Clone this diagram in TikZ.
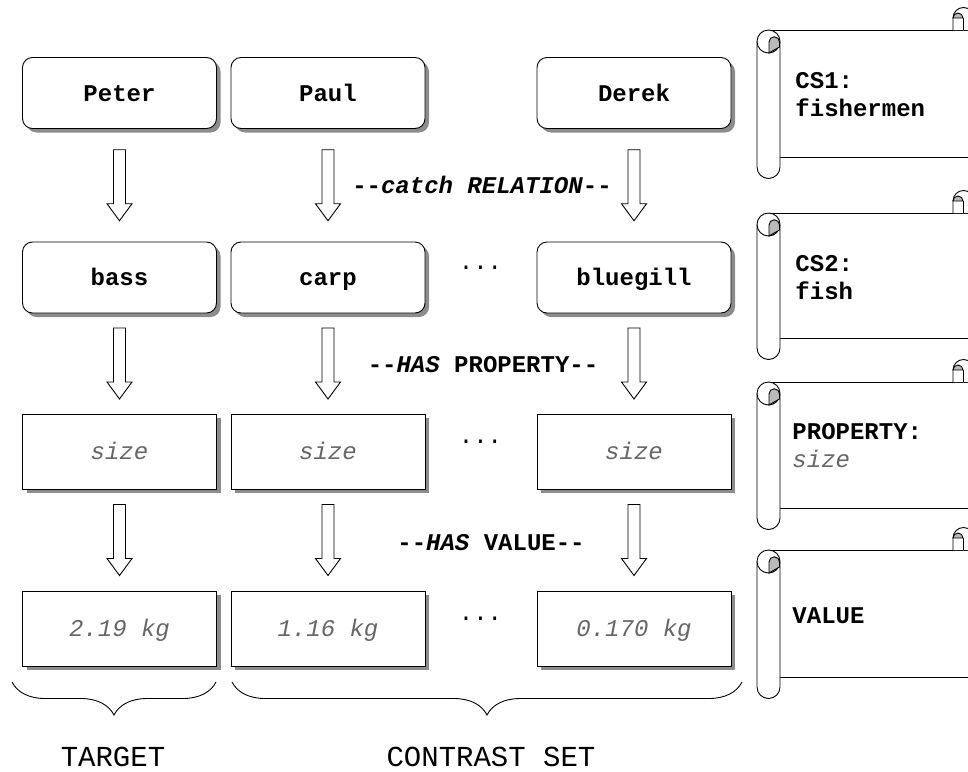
\documentclass[tikz,border=0pt]{standalone}
\usepackage{fontspec}
\setmainfont{Liberation Mono}[Ligatures=TeXOff]
\usetikzlibrary{calc,shadows,decorations.pathreplacing}

% hollow block arrow half way between two nodes
\newcommand{\hollowarrow}[2]{%
\path (#1.south) -- coordinate[pos=0.5] (mid) (#2.north);
\draw[fill=white] ($(mid)+(-6,35.5)$) -- ($(mid)+(6,35.5)$) -- ($(mid)+(6,-18.5)$)
  -- ($(mid)+(12.5,-18.5)$) -- ($(mid)+(0,-35.5)$) -- ($(mid)+(-12.5,-18.5)$)
  -- ($(mid)+(-6,-18.5)$) -- cycle;}

% scroll: top and bottom row of the sheet
\newcommand{\scrollbox}[2]{%
\fill[white] (775,-#1) rectangle (975,-#2);
\draw (768.5,-#1) -- (975,-#1);
\draw (780,-#2) -- (975,-#2);
\draw[fill=white] (953,-#1) -- (953,-#1+12) arc (180:0:10.5) -- (974,-#1);
\filldraw[fill=gray!55] (953,-#1+12) arc (180:0:5) -- cycle;
\draw (963,-#1+12) -- (963,-#1);
\draw[fill=white] (757,-#1-11.5) -- (757,-#2-10) arc (180:360:11.5) -- (780,-#1-11.5);
\draw[fill=white] (768.5,-#1-11.5) circle (11.5);
\filldraw[fill=gray!55] (769,-#1-23) -- (769,-#1-12) arc (180:0:5.25) -- (779.5,-#1-17) -- cycle;}

\begin{document}
\begin{tikzpicture}[x=1pt, y=1pt, line width=0.9pt,
  every node/.style={font=\fontsize{24}{28}\selectfont\bfseries},
  box/.style={draw, fill=white, minimum width=194pt, minimum height=75pt,
    text height=18pt, text depth=2pt,
    drop shadow={shadow xshift=4pt, shadow yshift=-4pt, fill=black!45, opacity=1}},
  rbox/.style={box, rounded corners=10pt, minimum height=71pt},
  valtext/.style={font=\fontsize{24}{28}\selectfont\mdseries\itshape, text=black!60}]
\useasboundingbox (0,0) rectangle (968,-771);

\node[rbox] (peter) at (119.5,-93) {Peter};
\node[rbox] (paul) at (328,-93) {Paul};
\node[rbox] (derek) at (634,-93) {Derek};

\node[rbox] (bass) at (119.5,-277.5) {bass};
\node[rbox] (carp) at (328,-277.5) {carp};
\node[rbox] (bluegill) at (634,-277.5) {bluegill};

\node[box, valtext] (sizeA) at (119.5,-451.5) {size};
\node[box, valtext] (sizeB) at (328,-451.5) {size};
\node[box, valtext] (sizeC) at (634,-451.5) {size};

\node[box, valtext] (valA) at (119.5,-628.5) {2.19 kg};
\node[box, valtext] (valB) at (328,-628.5) {1.16 kg};
\node[box, valtext] (valC) at (634,-628.5) {0.170 kg};

\hollowarrow{peter}{bass}
\hollowarrow{paul}{carp}
\hollowarrow{derek}{bluegill}
\hollowarrow{bass}{sizeA}
\hollowarrow{carp}{sizeB}
\hollowarrow{bluegill}{sizeC}
\hollowarrow{sizeA}{valA}
\hollowarrow{sizeB}{valB}
\hollowarrow{sizeC}{valC}

\node (relation) at (482,-185) {--\textit{catch RELATION}--};
\node (hasprop) at (483,-365) {--\textit{HAS} PROPERTY--};
\node (hasval) at (491,-543) {--\textit{HAS} VALUE--};

\node[font=\fontsize{24}{28}\selectfont] (dotsA) at (480.5,-268) {...};
\node[font=\fontsize{24}{28}\selectfont] (dotsB) at (480.5,-442) {...};
\node[font=\fontsize{24}{28}\selectfont] (dotsC) at (480.5,-619) {...};

\draw[decorate, decoration={brace, mirror, amplitude=33pt}] (12,-682) -- (216,-682);
\draw[decorate, decoration={brace, mirror, amplitude=33pt}] (232,-682) -- (742,-682);
\node[font=\fontsize{29}{32}\selectfont] (target) at (113,-757) {TARGET};
\node[font=\fontsize{29}{32}\selectfont] (contrast) at (491,-757) {CONTRAST SET};

\scrollbox{30}{157}
\scrollbox{213}{338}
\scrollbox{382}{508}
\scrollbox{550}{677}

\node[anchor=north west, align=left, inner sep=0pt] (cs1) at (795,-72) {CS1:\\fishermen};
\node[anchor=north west, align=left, inner sep=0pt] (cs2) at (795,-255) {CS2:\\fish};
\node[anchor=north west, align=left, inner sep=0pt] (prop) at (792,-423)
  {PROPERTY:\\{\mdseries\itshape\color{black!60}size}};
\node[anchor=north west, align=left, inner sep=0pt] (value) at (792,-607) {VALUE};

\end{tikzpicture}
\end{document}
